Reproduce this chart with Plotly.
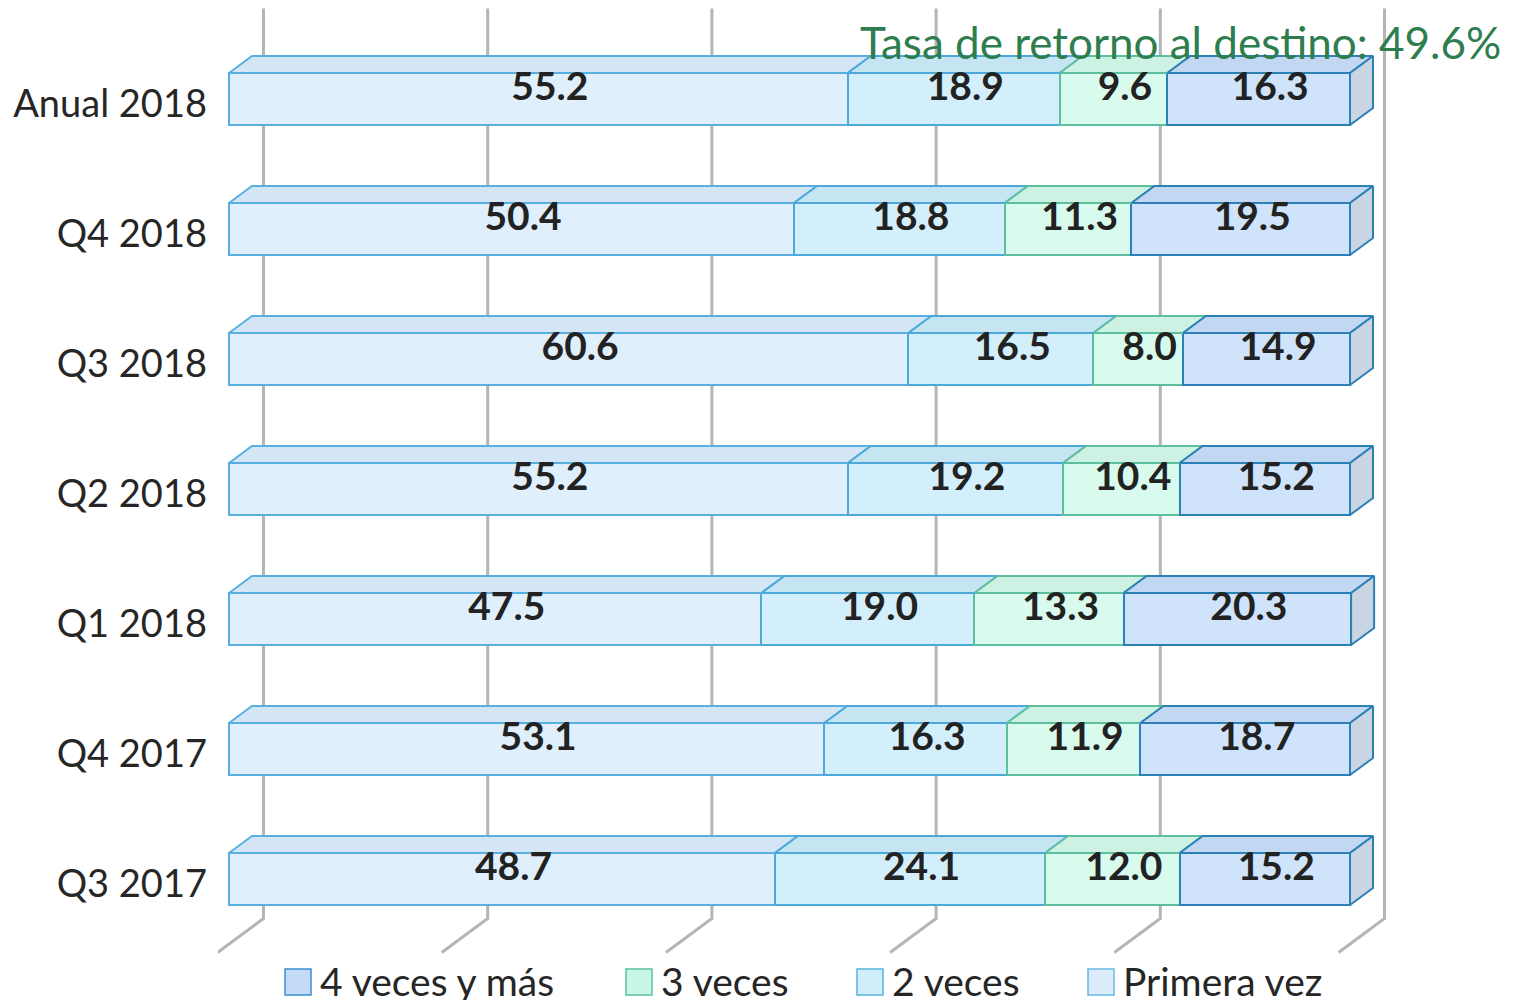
import plotly.graph_objects as go

# ---------------- data ----------------
categories = ["Anual 2018", "Q4 2018", "Q3 2018", "Q2 2018", "Q1 2018", "Q4 2017", "Q3 2017"]
primera_vez = [55.2, 50.4, 60.6, 55.2, 47.5, 53.1, 48.7]
dos_veces = [18.9, 18.8, 16.5, 19.2, 19.0, 16.3, 24.1]
tres_veces = [9.6, 11.3, 8.0, 10.4, 13.3, 11.9, 12.0]
cuatro_mas = [16.3, 19.5, 14.9, 15.2, 20.3, 18.7, 15.2]
series_names = ["Primera vez", "2 veces", "3 veces", "4 veces y más"]
x_grid_values = [0, 20, 40, 60, 80, 100]
title_text = "Tasa de retorno al destino: 49.6%"

# ---------------- styles ----------------
front_colors = ["#e0effc", "#d4effc", "#d8fbee", "#cfe3fb"]
top_colors = ["#d4e6f6", "#c6e5f3", "#cdf1e3", "#c2d7f1"]
border_colors = ["#58afe0", "#4ca9d9", "#5dbf9f", "#2b80b6"]
side_color = "#c9d5e2"
legend_fill = ["#dcecfc", "#d0eefb", "#c9f7e6", "#c5dcf8"]
legend_line = ["#6ab8e6", "#5ab4e0", "#5cc19f", "#3b8fd0"]
FONT = "Lato, 'Open Sans', sans-serif"

OFF = 8  # page body margin: screenshot px = figure px + OFF
W, H = 1515, 992
ML, MR, MT, MB = 218 - OFF, 0, 0, H - (955 - OFF)
X0_PX, X100_PX = 229 - OFF, 1350 - OFF
PPX = (X100_PX - X0_PX) / 100.0
ROW_PX = 130.0
TOP_ROW_PX = 99.0 - OFF
BAR_W = 0.4
DX = 23 / PPX
DY = 17 / ROW_PX

n = len(categories)
ypos = [n - 1 - i for i in range(n)]
plot_w = W - ML - MR
plot_h = H - MT - MB
x_lo = -(X0_PX - ML) / PPX
x_hi = (W - MR - X0_PX) / PPX
y_hi = (n - 1) + (TOP_ROW_PX - MT) / ROW_PX
y_lo = y_hi - plot_h / ROW_PX


def px_x(px):
    return (px - OFF - ML) / plot_w


def px_y(py):
    return (H - MB - (py - OFF)) / plot_h


series = [primera_vez, dos_veces, tres_veces, cuatro_mas]

fig = go.Figure()

# front faces (bars)
for k, vals in enumerate(series):
    fig.add_trace(go.Bar(
        y=ypos, x=vals, orientation="h", width=BAR_W, name=series_names[k],
        marker=dict(color=front_colors[k], line=dict(color=border_colors[k], width=2)),
        showlegend=False, hoverinfo="x+name",
    ))

# cumulative starts
starts = []
cum = [0.0] * n
for vals in series:
    starts.append(cum[:])
    cum = [c + v for c, v in zip(cum, vals)]
totals = cum

# top faces
for k, vals in enumerate(series):
    xs, ys = [], []
    for i in range(n):
        s = starts[k][i]
        e = s + vals[i]
        t = ypos[i] + BAR_W / 2
        xs += [s, s + DX, e + DX, e, s, None]
        ys += [t, t + DY, t + DY, t, t, None]
    fig.add_trace(go.Scatter(
        x=xs, y=ys, mode="lines", fill="toself", fillcolor=top_colors[k],
        line=dict(color=border_colors[k], width=2), showlegend=False, hoverinfo="skip",
    ))

# right side faces
xs, ys = [], []
for i in range(n):
    E = totals[i]
    t = ypos[i] + BAR_W / 2
    b = ypos[i] - BAR_W / 2
    xs += [E, E + DX, E + DX, E, E, None]
    ys += [t, t + DY, b + DY, b, t, None]
fig.add_trace(go.Scatter(
    x=xs, y=ys, mode="lines", fill="toself", fillcolor=side_color,
    line=dict(color=border_colors[3], width=2), showlegend=False, hoverinfo="skip",
))

# value labels
for k, vals in enumerate(series):
    lx = [starts[k][i] + vals[i] / 2 + DX / 2 for i in range(n)]
    ly = [ypos[i] + DY / 2 for i in range(n)]
    fig.add_trace(go.Scatter(
        x=lx, y=ly, mode="text", text=[f"{v:.1f}" for v in vals],
        textposition="middle center",
        textfont=dict(family=FONT, size=39, color="#222222", weight="bold"),
        showlegend=False, hoverinfo="skip",
    ))

# gridlines (back wall + floor), drawn below traces
shapes = []
y_floor = -0.5
y_top = (n - 1) + 0.5
for v in x_grid_values:
    bx = v + 1.5 * DX
    path = (f"M {v - 0.5 * DX},{y_floor - 0.5 * DY} "
            f"L {bx},{y_floor + 1.5 * DY} L {bx},{y_top + 1.5 * DY}")
    shapes.append(dict(type="path", path=path, xref="x", yref="y", layer="below",
                       line=dict(color="#b5b5b5", width=3)))

# manual legend (reversed order)
legend_x_px = [285, 626, 857, 1088]
annotations = []
for j, k in enumerate([3, 2, 1, 0]):
    mx = legend_x_px[j]
    shapes.append(dict(type="rect", xref="paper", yref="paper",
                       x0=px_x(mx), x1=px_x(mx + 26), y0=px_y(995), y1=px_y(969),
                       fillcolor=legend_fill[k], line=dict(color=legend_line[k], width=1.5),
                       layer="above"))
    annotations.append(dict(x=px_x(mx + 33), y=px_y(981), xref="paper", yref="paper",
                            xanchor="left", yanchor="middle", showarrow=False,
                            text=series_names[k],
                            font=dict(family=FONT, size=39, color="#262626")))

annotations.append(dict(x=px_x(1503), y=px_y(42), xref="paper", yref="paper",
                        xanchor="right", yanchor="middle", showarrow=False,
                        text=title_text,
                        font=dict(family=FONT, size=44, color="#2E7D4F")))

fig.update_layout(
    width=W, height=H,
    margin=dict(l=ML, r=MR, t=MT, b=MB, pad=0),
    paper_bgcolor="white", plot_bgcolor="white",
    barmode="stack", showlegend=False,
    font=dict(family=FONT, color="#262626"),
    shapes=shapes, annotations=annotations,
    xaxis=dict(range=[x_lo, x_hi], showgrid=False, zeroline=False, showticklabels=False,
               showline=False, fixedrange=True),
    yaxis=dict(range=[y_lo, y_hi], showgrid=False, zeroline=False, showline=False,
               tickvals=[y - 5 / ROW_PX for y in ypos], ticktext=categories, ticks="",
               ticklabelstandoff=10,
               tickfont=dict(family=FONT, size=38, color="#262626"), fixedrange=True),
)

fig.write_html("out.html")
